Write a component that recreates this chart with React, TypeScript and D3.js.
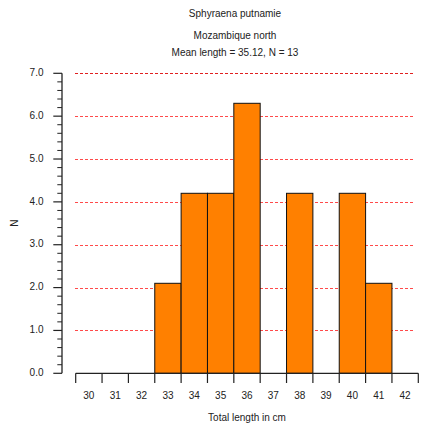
import React from "react";
import * as d3 from "d3";

const lengths = [30, 31, 32, 33, 34, 35, 36, 37, 38, 39, 40, 41, 42];
const counts = [0, 0, 0, 2.1, 4.2, 4.2, 6.3, 0, 4.2, 0, 4.2, 2.1, 0];
const yTicks = [0, 1, 2, 3, 4, 5, 6, 7];
const titleLines = ["Sphyraena putnamie", "Mozambique north", "Mean length = 35.12, N = 13"];

const W = 422, H = 428;
const left = 75.7, right = 418.3, top = 73.3, bottom = 373.3, yAxisX = 62;

export default function App() {
  const x = d3.scaleBand<number>().domain(lengths).range([left, right]).padding(0);
  const y = d3.scaleLinear().domain([0, 7]).range([bottom, top]);
  const minor = d3.range(0, 7.0001, 0.2).filter((v) => Math.abs(v - Math.round(v)) > 1e-6);
  const font = "'Liberation Sans', Arial, sans-serif";
  return (
    <svg width={W} height={H} style={{ position: "absolute", left: 0, top: 0, background: "#fff" }}>
      <g fontFamily={font} fontSize={10} fill="#222">
        <text x={235} y={14.3} textAnchor="middle" dominantBaseline="middle">{titleLines[0]}</text>
        <text x={235} y={36.7} textAnchor="middle" dominantBaseline="middle">{titleLines[1]}</text>
        <text x={235} y={53.3} textAnchor="middle" dominantBaseline="middle">{titleLines[2]}</text>
      </g>
      {/* gridlines */}
      {yTicks.filter((t) => t > 0).map((t) => (
        <line key={t} x1={75} x2={415} y1={Math.round(y(t)) + 0.5} y2={Math.round(y(t)) + 0.5}
          stroke={t === 7 ? "#e02020" : "#ff4a4a"} strokeWidth={1.2} strokeDasharray="3,2" />
      ))}
      {/* bars */}
      {lengths.map((l, i) => counts[i] > 0 ? (
        <rect key={l} x={x(l)!} y={y(counts[i])} width={x.bandwidth()} height={bottom - y(counts[i])}
          fill="#ff8000" stroke="#111" strokeWidth={1} />
      ) : null)}
      {/* y axis */}
      <line x1={yAxisX} x2={yAxisX} y1={top} y2={bottom} stroke="#222" strokeWidth={1.3} />
      {yTicks.map((t) => (
        <g key={t}>
          <line x1={53.3} x2={yAxisX} y1={y(t)} y2={y(t)} stroke="#222" strokeWidth={1.2} />
          <text x={43.5} y={y(t)} textAnchor="end" dominantBaseline="middle" fontFamily={font} fontSize={10} fill="#222">{t.toFixed(1)}</text>
        </g>
      ))}
      {minor.map((t, i) => (
        <line key={i} x1={57.3} x2={yAxisX} y1={y(t)} y2={y(t)} stroke="#222" strokeWidth={1} />
      ))}
      <text x={15} y={223} transform="rotate(-90,15,223)" textAnchor="middle" dominantBaseline="middle" fontFamily={font} fontSize={10} fill="#222">N</text>
      {/* x axis */}
      <line x1={left} x2={right} y1={bottom} y2={bottom} stroke="#222" strokeWidth={1.3} />
      {[...lengths.map((l) => x(l)!), right].map((px, i) => (
        <line key={i} x1={px} x2={px} y1={bottom} y2={383} stroke="#222" strokeWidth={1.2} />
      ))}
      {lengths.map((l) => (
        <text key={l} x={x(l)! + x.bandwidth() / 2} y={396.7} textAnchor="middle" dominantBaseline="middle" fontFamily={font} fontSize={10} fill="#222">{l}</text>
      ))}
      <text x={247} y={418} textAnchor="middle" dominantBaseline="middle" fontFamily={font} fontSize={10} fill="#222">Total length in cm</text>
    </svg>
  );
}
